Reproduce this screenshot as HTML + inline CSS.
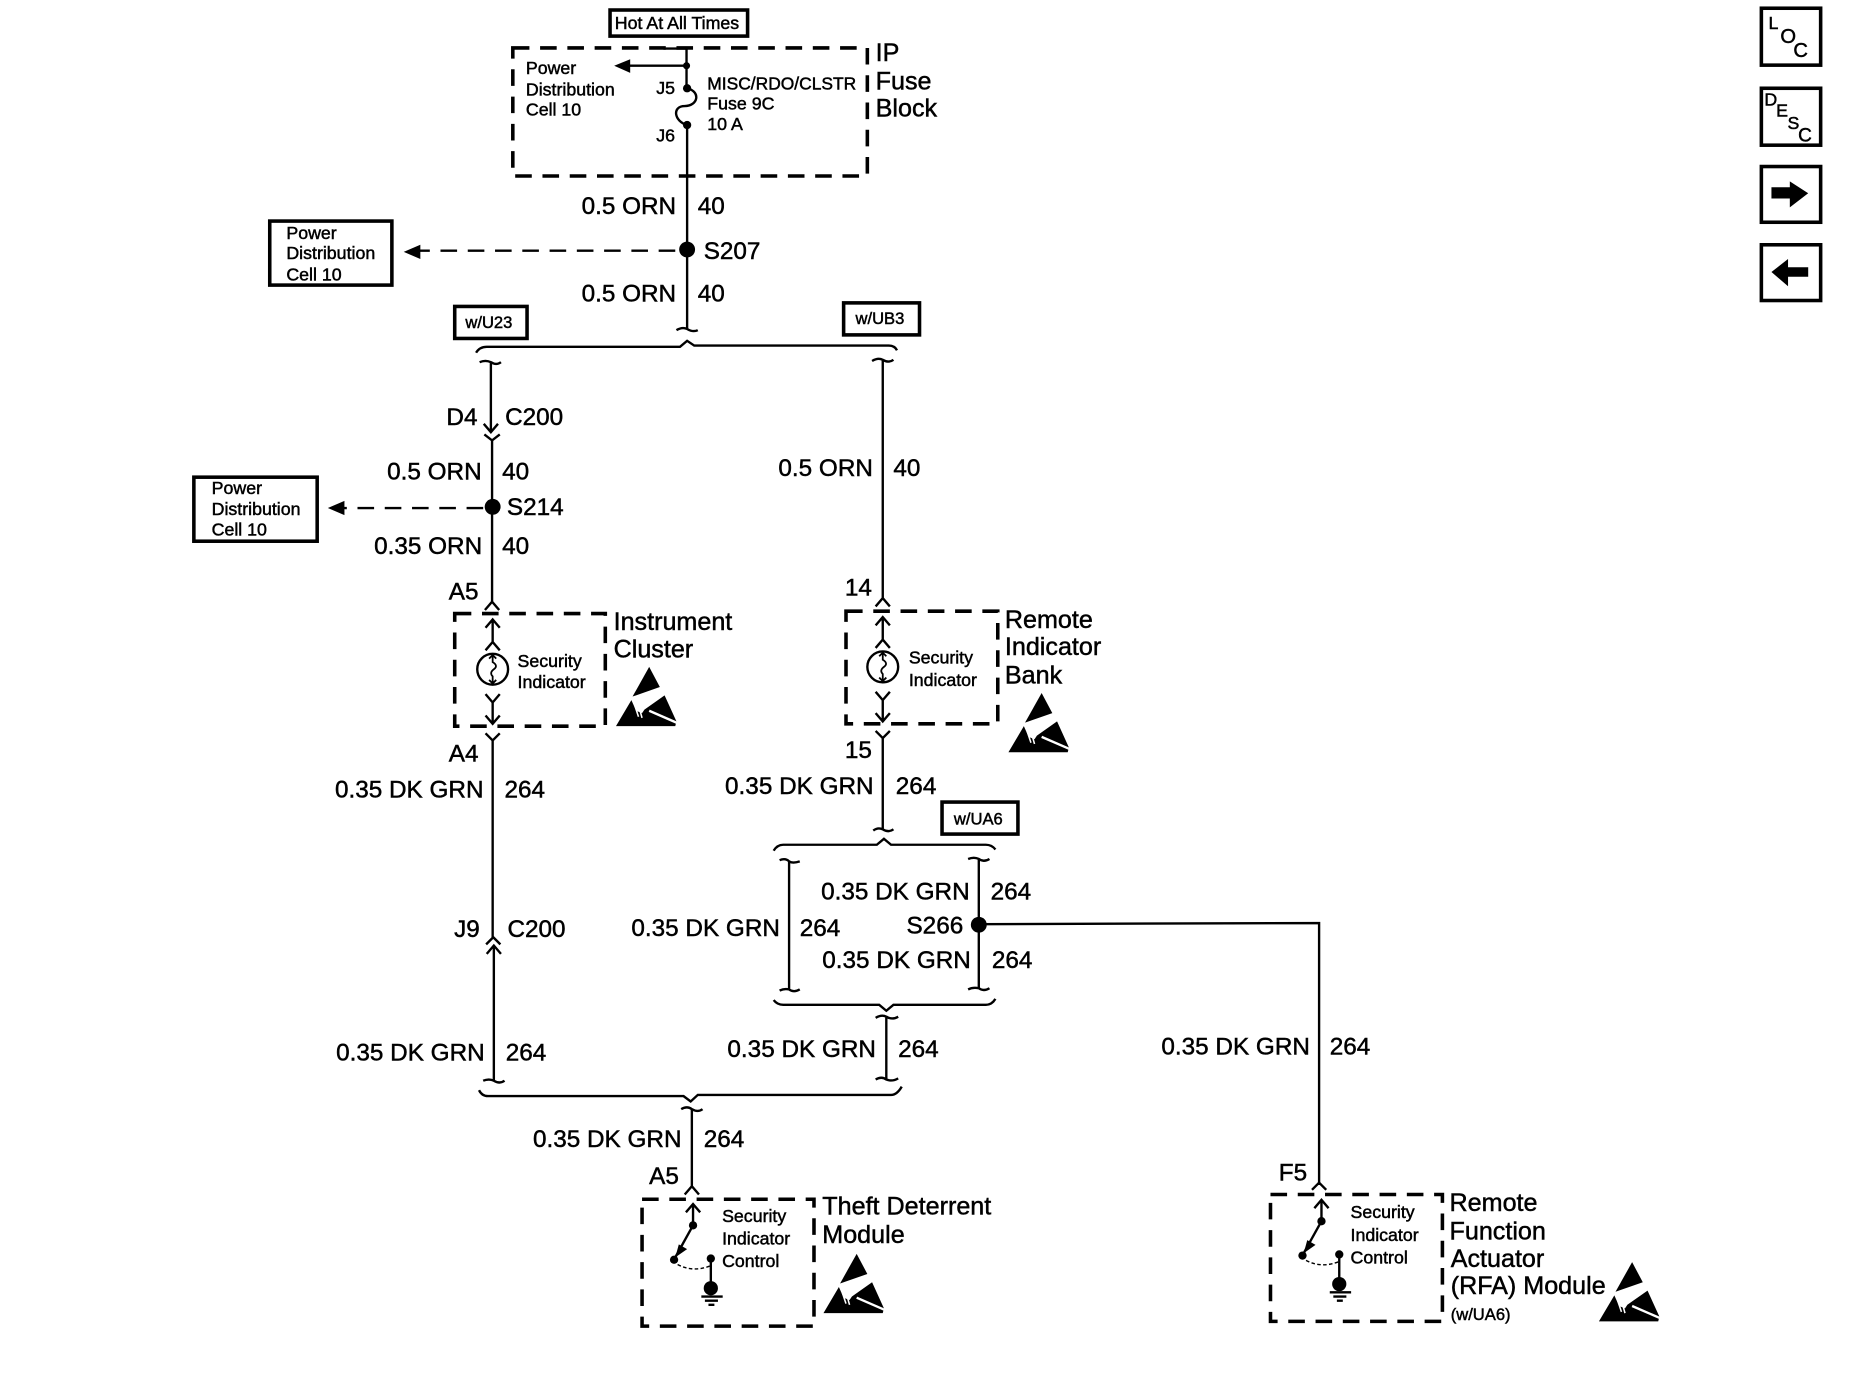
<!DOCTYPE html>
<html><head><meta charset="utf-8"><title>Wiring diagram</title>
<style>
html,body{margin:0;padding:0;background:#fff}
svg{display:block}
text{font-family:"Liberation Sans",sans-serif;fill:#000;stroke:#000;stroke-width:.4}
.l{font-size:20.5px}
.m{font-size:21.2px}
.s{font-size:15px}
.w{fill:none;stroke:#000;stroke-width:2}
.d{fill:none;stroke:#000;stroke-width:3;stroke-dasharray:14 9}
.b{fill:#fff;stroke:#000;stroke-width:3}
</style></head><body>
<svg xmlns="http://www.w3.org/2000/svg" width="1858" height="1376" viewBox="0.5 0.8 1567 1160">
<defs>
<g id="esd">
<polygon points="28,0 14,25 37,17" fill="#000"/>
<polygon points="0,50 13,28 17,37 22,39 24,36 41,24 51,46 50,50" fill="#000"/>
<path d="M28,37 L51,47" stroke="#fff" stroke-width="2" fill="none"/>
<path d="M16,33 L19,42 M20,36 L22,43" stroke="#fff" stroke-width="1.3" fill="none"/>
</g>
<g id="ind">
<path class="w" d="M416,523V542M410,530L416,523L422,530M410,549L416,542L422,549"/>
<circle cx="416" cy="565" r="13" fill="#fff" stroke="#000" stroke-width="2"/>
<path d="M416,552V559Q421,562 417,565Q413,568 416,571V578M413,556L416,553L419,556M413,574L416,577L419,574" fill="none" stroke="#000" stroke-width="1.5"/>
<path class="w" d="M410,586L416,593L422,586M416,593V611M410,604L416,611L422,604"/>
</g>
<g id="sw">
<path class="w" d="M585,1016V1034M579,1023L585,1016L591,1023"/>
<circle cx="585" cy="1034" r="3.5"/>
<path class="w" stroke-width="2.5" d="M585,1034L570,1061"/>
<path d="M570,1061L573,1050L580,1054Z"/>
<circle cx="569" cy="1063" r="3.5"/>
<circle cx="600" cy="1062" r="3.5"/>
<path d="M572,1067Q585,1074 600,1068" fill="none" stroke="#000" stroke-width="1.2" stroke-dasharray="3 2"/>
<path class="w" d="M600,1062V1087"/>
<circle cx="600" cy="1087" r="6"/>
<path class="w" d="M592,1094H610M595,1097.5H606M598,1101H603"/>
</g>
</defs>

<!-- Top fuse block -->
<rect x="515" y="9" width="116" height="22" class="b"/>
<text x="519" y="25" class="s">Hot At All Times</text>
<rect x="433" y="41" width="299" height="108" class="d"/>
<path class="w" d="M560,41.5H579.5V75"/>
<path class="w" d="M579.5,56H530"/>
<polygon points="518.5,56 532,50.5 532,62" fill="#000"/>
<circle cx="579.5" cy="56" r="3"/><circle cx="580" cy="75" r="3.5"/><circle cx="580" cy="106" r="3.5"/>
<path class="w" d="M580,75C592,78 589,90 578,90C567,90 569,103 580,106V278"/>
<text x="444" y="63" class="s">Power</text>
<text x="444" y="81" class="s">Distribution</text>
<text x="444" y="98" class="s">Cell 10</text>
<text x="554" y="80" class="s">J5</text>
<text x="554" y="120" class="s">J6</text>
<text x="597" y="76" font-size="14.7">MISC/RDO/CLSTR</text>
<text x="597" y="93" class="s">Fuse 9C</text>
<text x="597" y="110" class="s">10 A</text>
<text x="739" y="52" class="m">IP</text>
<text x="739" y="76" class="m">Fuse</text>
<text x="739" y="99" class="m">Block</text>

<text x="491" y="181" class="l">0.5 ORN</text>
<text x="589" y="181" class="l">40</text>
<circle cx="580" cy="211" r="6.7"/>
<text x="594" y="219" class="l">S207</text>
<text x="491" y="255" class="l">0.5 ORN</text>
<text x="589" y="255" class="l">40</text>
<path class="w" d="M571,279Q576,276 580,278Q585,281 589,279"/>
<path class="w" stroke-dasharray="14 9" d="M570,212H352"/>
<polygon points="341,213 355,207 355,219" fill="#000"/>
<rect x="228" y="187" width="103" height="54" class="b"/>
<text x="242" y="202" class="s">Power</text>
<text x="242" y="219" class="s">Distribution</text>
<text x="242" y="237" class="s">Cell 10</text>

<rect x="384" y="259" width="61" height="27" class="b"/>
<text x="393" y="277" font-size="14">w/U23</text>
<rect x="712" y="256" width="64" height="27" class="b"/>
<text x="722" y="274" font-size="14">w/UB3</text>
<path class="w" d="M402,298Q405,293 411,293H574L580,288L586,292H750Q755,292 757,296"/>

<!-- Left column upper -->
<path class="w" d="M405,306Q410,304 414.5,306Q419,309 423,306M414.5,306V365M408.5,358L414.5,365L420.5,358"/>
<path class="w" d="M409,367L415.5,372L422,367M415.5,372V508M409.5,515L415.5,508L421.5,515"/>
<text x="377" y="359" class="l">D4</text>
<text x="426.500" y="359" class="l">C200</text>
<text x="327" y="405" class="l">0.5 ORN</text>
<text x="424" y="405" class="l">40</text>
<circle cx="416" cy="428" r="6.7"/>
<text x="428" y="435" class="l">S214</text>
<text x="316" y="468" class="l">0.35 ORN</text>
<text x="424" y="468" class="l">40</text>
<path class="w" stroke-dasharray="14 9" d="M408,429H289"/>
<polygon points="277,429 291,423 291,435" fill="#000"/>
<rect x="164" y="403" width="104" height="54" class="b"/>
<text x="179" y="417" class="s">Power</text>
<text x="179" y="435" class="s">Distribution</text>
<text x="179" y="452" class="s">Cell 10</text>

<text x="379" y="506" class="l">A5</text>
<rect x="384" y="518" width="127" height="95" class="d"/>
<use href="#ind"/>
<text x="437" y="563" class="s">Security</text>
<text x="437" y="581" class="s">Indicator</text>
<text x="518" y="532" class="m">Instrument</text>
<text x="518" y="555" class="m">Cluster</text>
<use href="#esd" x="520" y="563"/>
<text x="379" y="643" class="l">A4</text>
<path class="w" d="M410,619L416,625L422,619M416,625V791M410.500,797L416.500,791L422.500,797"/>
<text x="283" y="673" class="l">0.35 DK GRN</text>
<text x="426" y="673" class="l">264</text>
<text x="383.500" y="791" class="l">J9</text>
<text x="428.500" y="791" class="l">C200</text>
<path class="w" d="M411,805L417,798L423,805M417,798V912M408,912Q413,910 417,912Q422,915 426,912"/>
<text x="284" y="895" class="l">0.35 DK GRN</text>
<text x="427" y="895" class="l">264</text>

<!-- Right column upper -->
<path class="w" d="M736,305Q741,302 745,304Q750,307 754,304M745,304V505M739,512L745,505L751,512"/>
<text x="657" y="402" class="l">0.5 ORN</text>
<text x="754" y="402" class="l">40</text>
<text x="713" y="503" class="l">14</text>
<rect x="714" y="516" width="128" height="95" class="d"/>
<use href="#ind" x="329" y="-2"/>
<text x="767" y="560" class="s">Security</text>
<text x="767" y="579" class="s">Indicator</text>
<text x="848" y="530" class="m">Remote</text>
<text x="848" y="553" class="m">Indicator</text>
<text x="848" y="577" class="m">Bank</text>
<use href="#esd" x="851" y="585"/>
<text x="713" y="640" class="l">15</text>
<path class="w" d="M739,617L745,623L751,617M745,623V700M737,701Q741,698 745,700Q750,703 754,700"/>
<text x="612" y="670" class="l">0.35 DK GRN</text>
<text x="756" y="670" class="l">264</text>
<rect x="795" y="677" width="64" height="27" class="b"/>
<text x="805" y="696" font-size="14">w/UA6</text>

<!-- S266 block -->
<path class="w" d="M653,718Q656,713 661,713H740L746,708L752,713H832Q837,713 840,717"/>
<path class="w" d="M658,726Q663,724 666,727Q669,729 675,727M666,727V835M658,836Q662,834 666,835Q670,838 675,835"/>
<path class="w" d="M817,725Q822,723 826,725Q830,728 835,725M826,725V834M817,835Q821,833 826,834Q830,837 835,834"/>
<circle cx="826" cy="780.500" r="6.700"/>
<path class="w" d="M826,780L1113,779V1000"/>
<text x="693" y="759" class="l">0.35 DK GRN</text>
<text x="836" y="759" class="l">264</text>
<text x="533" y="790" class="l">0.35 DK GRN</text>
<text x="675" y="790" class="l">264</text>
<text x="765" y="788" class="l">S266</text>
<text x="694" y="817" class="l">0.35 DK GRN</text>
<text x="837" y="817" class="l">264</text>
<path class="w" d="M653,844Q656,848 661,848H742L748,853L754,848H832Q837,848 840,843"/>
<path class="w" d="M739,859Q744,856 748,858Q753,861 758,858M748,858V911M739,911Q744,908 748,911Q753,913 758,910"/>
<text x="614" y="892" class="l">0.35 DK GRN</text>
<text x="758" y="892" class="l">264</text>

<!-- Bottom bus -->
<path class="w" d="M404.500,920Q407,925 412,925H577L583,929.500L589,924H752Q757,924 761,917"/>
<path class="w" d="M575,936Q580,933 584,936Q589,939 593,936M584,936V1001M578,1008L584,1001L590,1008"/>
<text x="450" y="968" class="l">0.35 DK GRN</text>
<text x="594" y="968" class="l">264</text>
<text x="548" y="999" class="l">A5</text>
<rect x="542" y="1012" width="145" height="107" class="d"/>
<use href="#sw"/>
<text x="609.500" y="1031" class="s">Security</text>
<text x="609.500" y="1050" class="s">Indicator</text>
<text x="609.500" y="1069" class="s">Control</text>
<text x="694" y="1025" class="m">Theft Deterrent</text>
<text x="694" y="1049" class="m">Module</text>
<use href="#esd" x="695" y="1058"/>

<!-- RFA -->
<text x="980" y="890" class="l">0.35 DK GRN</text>
<text x="1122" y="890" class="l">264</text>
<text x="1079" y="996" class="l">F5</text>
<path class="w" d="M1107,1004L1113,998L1119,1004"/>
<rect x="1072" y="1008" width="145" height="107" class="d"/>
<use href="#sw" x="530" y="-3.500"/>
<text x="1139.500" y="1028" class="s">Security</text>
<text x="1139.500" y="1047" class="s">Indicator</text>
<text x="1139.500" y="1066" class="s">Control</text>
<text x="1223" y="1022" class="m">Remote</text>
<text x="1223" y="1046" class="m">Function</text>
<text x="1224" y="1069" class="m">Actuator</text>
<text x="1224" y="1092" class="m">(RFA) Module</text>
<text x="1224" y="1114" font-size="14">(w/UA6)</text>
<use href="#esd" x="1349" y="1065"/>

<!-- Right icons -->
<rect x="1486" y="7.500" width="50" height="48" class="b"/>
<text x="1492" y="25" font-size="15">L</text>
<text x="1502" y="37" font-size="17">O</text>
<text x="1513" y="48.500" font-size="17">C</text>
<rect x="1486" y="75" width="50" height="48" class="b"/>
<text x="1488.500" y="89.500" font-size="15">D</text>
<text x="1498.500" y="99" font-size="15">E</text>
<text x="1508" y="109.500" font-size="15">S</text>
<text x="1517" y="120" font-size="16">C</text>
<rect x="1486" y="141" width="50" height="47" class="b"/>
<polygon points="1494.500,158.500 1510,158.500 1510,153.500 1525.500,163.500 1510,175.500 1510,168 1494.500,168" fill="#000"/>
<rect x="1486" y="207" width="50" height="47" class="b"/>
<polygon points="1494.500,230 1508.500,219 1508.500,226 1525.500,226 1525.500,234 1508.500,234 1508.500,242" fill="#000"/>
</svg>
</body></html>
